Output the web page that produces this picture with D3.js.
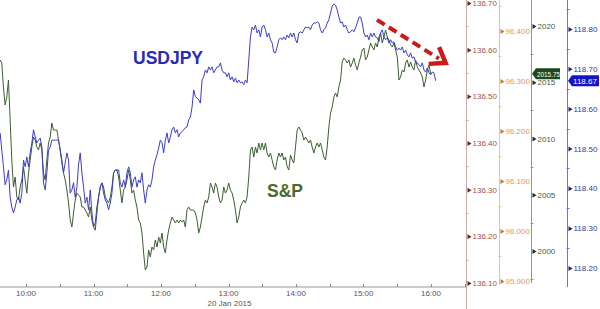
<!DOCTYPE html>
<html>
<head>
<meta charset="utf-8">
<script src="https://cdn.jsdelivr.net/npm/d3@7"></script>
<style>
  body { margin: 0; background: #fff; }
  svg { display: block; }
  text { font-family: "Liberation Sans", Arial, sans-serif; }
</style>
</head>
<body>
<svg id="chart"></svg>
<script>
// intraday series, 20 Jan 2015, sampled every 89 seconds from 09:37
const day = "2015-01-20";
const seriesStart = "09:37:00";
const stepSeconds = 89;

const usdjpy = [
  118.539, 118.496, 118.454, 118.409, 118.421, 118.446, 118.378, 118.353, 118.338, 118.353,
  118.371, 118.378, 118.363, 118.388, 118.471, 118.454, 118.479, 118.454, 118.489, 118.514,
  118.547, 118.529, 118.514, 118.521, 118.526, 118.504, 118.414, 118.396, 118.439, 118.496,
  118.504, 118.521, 118.521, 118.521, 118.521, 118.521, 118.496, 118.471, 118.439, 118.464,
  118.489, 118.471, 118.388, 118.396, 118.414, 118.378, 118.403, 118.459, 118.489, 118.439,
  118.403, 118.363, 118.378, 118.346, 118.396, 118.338, 118.303, 118.295, 118.338, 118.378,
  118.403, 118.414, 118.388, 118.371, 118.363, 118.346, 118.363, 118.388, 118.439, 118.446,
  118.446, 118.446, 118.414, 118.403, 118.421, 118.403, 118.439, 118.454, 118.439, 118.403,
  118.421, 118.429, 118.403, 118.421, 118.414, 118.439, 118.396, 118.363, 118.396, 118.409,
  118.403, 118.421, 118.454, 118.471, 118.484, 118.501, 118.521, 118.514, 118.489, 118.521,
  118.539, 118.514, 118.529, 118.547, 118.554, 118.539, 118.547, 118.529, 118.539, 118.542,
  118.547, 118.552, 118.554, 118.572, 118.579, 118.604, 118.647, 118.630, 118.627, 118.622,
  118.614, 118.672, 118.680, 118.697, 118.690, 118.705, 118.697, 118.705, 118.690, 118.697,
  118.705, 118.705, 118.715, 118.697, 118.690, 118.690, 118.680, 118.690, 118.672, 118.680,
  118.667, 118.677, 118.665, 118.672, 118.665, 118.667, 118.660, 118.672, 118.665, 118.722,
  118.780, 118.805, 118.798, 118.810, 118.790, 118.798, 118.780, 118.805, 118.810, 118.798,
  118.780, 118.790, 118.773, 118.765, 118.742, 118.740, 118.755, 118.773, 118.778, 118.773,
  118.780, 118.773, 118.785, 118.778, 118.790, 118.780, 118.790, 118.773, 118.765, 118.790,
  118.793, 118.790, 118.798, 118.805, 118.803, 118.805, 118.798, 118.810, 118.815, 118.815,
  118.818, 118.815, 118.798, 118.790, 118.798, 118.803, 118.815, 118.823, 118.840, 118.858,
  118.863, 118.860, 118.848, 118.830, 118.815, 118.818, 118.805, 118.810, 118.798, 118.790,
  118.793, 118.798, 118.793, 118.803, 118.815, 118.830, 118.830, 118.815, 118.790, 118.780,
  118.785, 118.773, 118.790, 118.780, 118.790, 118.780, 118.778, 118.768, 118.790, 118.798,
  118.780, 118.773, 118.778, 118.765, 118.773, 118.765, 118.768, 118.755, 118.747, 118.752,
  118.747, 118.755, 118.740, 118.747, 118.735, 118.730, 118.740, 118.727, 118.730, 118.717,
  118.715, 118.710, 118.705, 118.715, 118.697, 118.692, 118.702, 118.690, 118.685, 118.692,
  118.690, 118.670
];

const spx = [
  2016.98, 2016.71, 2014.49, 2012.98, 2013.69, 2015.20, 2011.64, 2008.09, 2005.69, 2006.58,
  2004.80, 2004.53, 2005.69, 2006.31, 2007.47, 2006.31, 2005.15, 2006.93, 2008.09, 2009.24,
  2010.13, 2009.87, 2009.24, 2008.98, 2009.60, 2008.98, 2006.93, 2006.31, 2008.09, 2009.60,
  2010.13, 2011.38, 2010.75, 2010.75, 2010.75, 2009.87, 2008.98, 2007.82, 2006.93, 2006.31,
  2005.42, 2004.27, 2002.75, 2002.13, 2003.38, 2004.53, 2005.15, 2004.98, 2004.80, 2003.91,
  2003.91, 2003.64, 2003.38, 2003.02, 2003.91, 2002.75, 2002.13, 2002.49, 2003.91, 2004.80,
  2005.69, 2006.04, 2005.69, 2004.80, 2004.53, 2004.27, 2004.80, 2005.69, 2006.93, 2007.20,
  2007.20, 2006.58, 2005.42, 2004.27, 2005.42, 2005.69, 2006.31, 2007.20, 2006.31, 2005.15,
  2005.42, 2004.53, 2003.91, 2002.75, 2002.49, 2001.60, 1999.82, 1998.31, 1998.58, 2000.09,
  1999.47, 2000.35, 2000.09, 2000.98, 2000.35, 2001.24, 2000.71, 2001.60, 2000.35, 1999.82,
  2000.98, 2001.87, 2002.49, 2003.02, 2002.75, 2002.49, 2002.75, 2002.49, 2002.75, 2002.58,
  2002.75, 2002.13, 2003.64, 2003.91, 2003.64, 2003.64, 2003.64, 2003.38, 2002.75, 2001.60,
  2002.13, 2003.02, 2003.91, 2004.53, 2004.27, 2004.80, 2006.04, 2005.69, 2005.15, 2006.04,
  2005.69, 2004.80, 2004.27, 2004.53, 2005.69, 2005.15, 2005.42, 2006.04, 2005.42, 2005.15,
  2004.53, 2003.64, 2002.49, 2003.02, 2003.91, 2004.27, 2004.53, 2004.27, 2004.80, 2006.58,
  2008.98, 2009.24, 2008.35, 2009.24, 2008.71, 2009.60, 2008.98, 2009.60, 2008.98, 2009.60,
  2008.71, 2008.35, 2008.71, 2008.09, 2007.47, 2007.20, 2008.09, 2008.71, 2008.35, 2008.71,
  2008.09, 2008.35, 2007.47, 2007.20, 2008.53, 2008.09, 2007.82, 2009.24, 2010.75, 2011.02,
  2010.75, 2010.49, 2009.87, 2010.13, 2009.87, 2009.60, 2009.87, 2009.24, 2008.71, 2009.24,
  2009.60, 2009.24, 2009.60, 2008.98, 2008.35, 2008.09, 2009.24, 2011.02, 2012.27, 2012.80,
  2013.69, 2014.04, 2013.69, 2014.58, 2015.20, 2016.80, 2017.15, 2016.98, 2016.71, 2016.98,
  2016.35, 2016.71, 2017.15, 2016.53, 2016.09, 2016.71, 2017.24, 2017.87, 2018.04, 2016.98,
  2017.24, 2017.87, 2018.49, 2018.13, 2017.87, 2018.49, 2018.13, 2019.02, 2019.38, 2018.49,
  2019.02, 2019.64, 2019.02, 2018.75, 2018.31, 2018.13, 2018.49, 2017.87, 2017.24, 2015.20,
  2015.47, 2016.09, 2015.91, 2016.71, 2016.98, 2016.35, 2016.80, 2016.35, 2016.09, 2016.98,
  2016.35, 2016.09, 2015.82, 2015.47, 2014.58, 2015.20, 2016.09, 2016.53, 2015.75
];

// axis ticks
const hourTicks = ["10:00", "11:00", "12:00", "13:00", "14:00", "15:00", "16:00"];
const halfHourTicks = ["10:30", "11:30", "12:30", "13:30", "14:30", "15:30", "16:30"];
const dateLabel = "20 Jan 2015";
const dateUnder = "13:00";
const ticksA = [136.1, 136.2, 136.3, 136.4, 136.5, 136.6, 136.7];
const ticksB = [95.9, 96.0, 96.1, 96.2, 96.3, 96.4];
const ticksC = [2000, 2005, 2010, 2015, 2020];
const ticksD = [118.2, 118.3, 118.4, 118.5, 118.6, 118.7, 118.8];
const lastSpx = 2015.75;
const lastUsd = 118.67;
const trendArrow = [["15:12:00", 118.823], ["16:13:00", 118.715]];

const width = 600, height = 309;
const plotRight = 466, plotBottom = 287;

const svg = d3.select('#chart')
              .attr('width', width)
              .attr('height', height);

const parseTime = d3.timeParse('%Y-%m-%d %H:%M:%S');
const at = s => parseTime(day + ' ' + (s.length === 5 ? s + ':00' : s));

const x = d3.scaleTime()
            .domain([at('09:36:53'), at('16:31:07')])
            .range([0, plotRight]);

const yA = d3.scaleLinear().domain([136.0914, 136.7064]).range([plotBottom, 0]);
const yB = d3.scaleLinear().domain([95.888, 96.462]).range([plotBottom, 0]);
const yC = d3.scaleLinear().domain([1996.8, 2022.31]).range([plotBottom, 0]);
const yD = d3.scaleLinear().domain([118.1523, 118.8728]).range([plotBottom, 0]);

const t0 = at(seriesStart);
const timeAt = i => new Date(t0.getTime() + i * stepSeconds * 1000);

// x axis
const xg = svg.append('g').attr('transform', `translate(0,${plotBottom})`);
xg.append('line')
    .attr('x1', 0).attr('x2', plotRight)
    .attr('stroke', '#9a9a9a');
xg.selectAll('.tk')
    .data(hourTicks.concat(halfHourTicks))
    .enter()
    .append('line')
        .attr('x1', d => Math.round(x(at(d))) + 0.5)
        .attr('x2', d => Math.round(x(at(d))) + 0.5)
        .attr('y1', -3).attr('y2', 0)
        .attr('stroke', '#8a8a8a');
xg.selectAll('.lbl')
    .data(hourTicks)
    .enter()
    .append('text')
        .attr('x', d => x(at(d)))
        .attr('y', 9)
        .attr('text-anchor', 'middle')
        .attr('font-size', 8)
        .attr('fill', '#555')
        .text(d => d);
xg.append('text')
    .attr('x', x(at(dateUnder)) + 1)
    .attr('y', 19)
    .attr('text-anchor', 'middle')
    .attr('font-size', 8)
    .attr('fill', '#555')
    .text(dateLabel);

// right-hand axes
const axes = [
  { scale: yA, x: 466.5, ticks: ticksA, step: 0.1, fmt: d3.format('.2f'), bottom: height,
    line: '#cfaaa6', text: '#a0524e', mark: '#5a2a28' },
  { scale: yB, x: 499.5, ticks: ticksB, step: 0.1, fmt: d3.format('.3f'), bottom: 285,
    line: '#e6c49a', text: '#e29a52', mark: '#c77a30' },
  { scale: yC, x: 531.5, ticks: ticksC, step: 5, fmt: d3.format('d'), bottom: 283,
    line: '#8c9a8c', text: '#3f5a3f', mark: '#1f2f1f' },
  { scale: yD, x: 567.5, ticks: ticksD, step: 0.1, fmt: d3.format('.2f'), bottom: 287,
    line: '#7272cc', text: '#3a3a90', mark: '#1e1e80' }
];

axes.forEach(a => {
  const g = svg.append('g');
  g.append('line')
      .attr('x1', a.x).attr('x2', a.x)
      .attr('y1', 0).attr('y2', a.bottom)
      .attr('stroke', a.line);

  const [lo, hi] = a.scale.domain();
  const minor = a.ticks.map(v => v + a.step / 2)
                       .concat([a.ticks[0] - a.step / 2])
                       .filter(v => v > lo && v < hi);
  g.selectAll('.minor')
      .data(minor)
      .enter()
      .append('line')
          .attr('x1', a.x - 1).attr('x2', a.x + 2)
          .attr('y1', d => Math.round(a.scale(d)) + 0.5)
          .attr('y2', d => Math.round(a.scale(d)) + 0.5)
          .attr('stroke', a.line);

  const axis = d3.axisRight(a.scale)
                 .tickValues(a.ticks)
                 .tickFormat(a.fmt)
                 .tickSize(0)
                 .tickPadding(6);
  const ag = g.append('g')
              .attr('transform', `translate(${a.x},0)`)
              .call(axis);
  ag.select('.domain').remove();
  ag.selectAll('text')
      .attr('font-size', 8)
      .attr('font-family', '"Liberation Sans", Arial, sans-serif')
      .attr('fill', a.text);
  ag.selectAll('.tick')
      .append('path')
          .attr('d', 'M1,-2.5L5,0L1,2.5Z')
          .attr('fill', a.mark);
});

// series lines
const line = yScale => d3.line()
                         .x((d, i) => x(timeAt(i)))
                         .y(d => yScale(d));

svg.append('path')
    .datum(spx)
    .attr('d', line(yC))
    .attr('fill', 'none')
    .attr('stroke', '#3e5e32')
    .attr('stroke-width', 1);

svg.append('path')
    .datum(usdjpy)
    .attr('d', line(yD))
    .attr('fill', 'none')
    .attr('stroke', '#3d3dc6')
    .attr('stroke-width', 1);

// last-value flags
function flag(ax, y, label, fill, w, textLen) {
  const h = 5.5;
  svg.append('path')
      .attr('d', `M${ax},${y}L${ax + 4},${y - h}L${ax + 4 + w},${y - h}L${ax + 4 + w},${y + h}L${ax + 4},${y + h}Z`)
      .attr('fill', fill);
  svg.append('text')
      .attr('x', ax + 5)
      .attr('y', y + 3)
      .attr('font-size', 8)
      .attr('fill', '#fff')
      .attr('textLength', textLen)
      .attr('lengthAdjust', 'spacingAndGlyphs')
      .text(label);
}
flag(532, yC(lastSpx), d3.format('.2f')(lastSpx), '#1c4a1c', 24, 23);
flag(568, yD(lastUsd), d3.format('.2f')(lastUsd), '#1414cc', 27, 24);

// annotations
svg.append('text')
    .attr('x', 133).attr('y', 64)
    .attr('font-size', 19)
    .attr('font-weight', 'bold')
    .attr('fill', '#2a2ab8')
    .attr('textLength', 70)
    .attr('lengthAdjust', 'spacingAndGlyphs')
    .text('USDJPY');

svg.append('text')
    .attr('x', 267).attr('y', 197)
    .attr('font-size', 19)
    .attr('font-weight', 'bold')
    .attr('fill', '#4b6b2b')
    .attr('textLength', 36)
    .attr('lengthAdjust', 'spacingAndGlyphs')
    .text('S&P');

// trend arrow
const p0 = [x(at(trendArrow[0][0])), yD(trendArrow[0][1])];
const p1 = [x(at(trendArrow[1][0])), yD(trendArrow[1][1])];
const ang = Math.atan2(p1[1] - p0[1], p1[0] - p0[0]);
const back = (len, off) => [p1[0] - len * Math.cos(ang + off), p1[1] - len * Math.sin(ang + off)];
const shaft = back(8, 0);

svg.append('line')
    .attr('x1', p0[0]).attr('y1', p0[1])
    .attr('x2', shaft[0]).attr('y2', shaft[1])
    .attr('stroke', '#cc1a1a')
    .attr('stroke-width', 4)
    .attr('stroke-dasharray', '9,5');

const a1 = back(17, 0.62), a2 = back(17, -0.62);
svg.append('path')
    .attr('d', `M${a1[0]},${a1[1]}L${p1[0]},${p1[1]}L${a2[0]},${a2[1]}`)
    .attr('fill', 'none')
    .attr('stroke', '#cc1a1a')
    .attr('stroke-width', 4.5)
    .attr('stroke-linejoin', 'miter');
</script>
</body>
</html>
